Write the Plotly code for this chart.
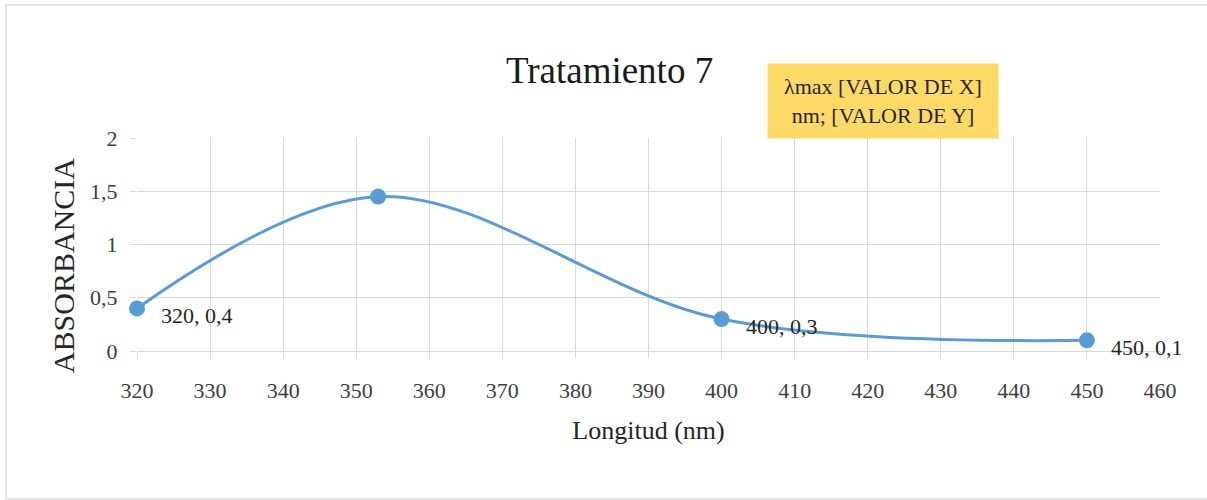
import plotly.graph_objects as go

longitud = [320, 353, 400, 450]
absorbancia = [0.4, 1.45, 0.3, 0.1]
etiquetas = ["320, 0,4", "", "400, 0,3", "450, 0,1"]

fuente = "Liberation Serif, Times New Roman, serif"
azul = "#5B9BD5"

fig = go.Figure()
fig.add_trace(go.Scatter(
    x=longitud, y=absorbancia,
    mode="lines+markers",
    line=dict(color=azul, width=3, shape="spline", smoothing=1.0),
    marker=dict(color=azul, size=16),
    cliponaxis=False,
    showlegend=False,
))

# etiquetas de datos
for x, y, t in zip(longitud, absorbancia, etiquetas):
    if t:
        fig.add_annotation(x=x, y=y, text=t, showarrow=False,
                           xanchor="left", yanchor="middle", xshift=22, yshift=-7,
                           font=dict(family=fuente, size=22, color="#262626"))

# caja amarilla del lambda max
fig.add_annotation(
    xref="paper", yref="paper", x=0.729, y=1.174,
    xanchor="center", yanchor="middle",
    text="λmax [VALOR DE X]<br>nm; [VALOR DE Y]",
    showarrow=False, bgcolor="#FFD966",
    width=228, height=72,
    font=dict(family=fuente, size=22, color="#262626"),
)

# titulo del eje y (algo mas abajo que el centro, como en el original)
fig.add_annotation(
    xref="paper", yref="paper", x=-0.072, y=0.40,
    xanchor="center", yanchor="middle", textangle=-90,
    text="ABSORBANCIA", showarrow=False,
    font=dict(family=fuente, size=30, color="#262626"),
)

# marco exterior del grafico
fig.add_shape(type="rect", xref="paper", yref="paper",
              x0=-0.128, x1=1.06, y0=-0.695, y1=1.624,
              line=dict(color="#E3E3E3", width=2))

fig.update_layout(
    width=1207, height=500,
    margin=dict(l=137, r=47, t=138, b=149),
    paper_bgcolor="white", plot_bgcolor="white",
    separators=",.",
    font=dict(family=fuente, color="#404040"),
    title=dict(text="Tratamiento 7", x=0.505, xanchor="center", y=0.86, yanchor="middle",
               font=dict(family=fuente, size=37, color="#1a1a1a")),
)
fig.update_xaxes(
    range=[320, 460], dtick=10, tick0=320,
    showgrid=True, gridcolor="#D9D9D9", gridwidth=1,
    ticks="outside", ticklen=6, tickcolor="#D9D9D9",
    showline=True, linecolor="#D9D9D9",
    zeroline=False, ticklabelstandoff=14,
    tickfont=dict(family=fuente, size=22, color="#404040"),
    title=dict(text="Longitud (nm)", font=dict(family=fuente, size=26, color="#262626"), standoff=18),
)
fig.update_yaxes(
    range=[0, 2], dtick=0.5,
    showgrid=True, gridcolor="#D9D9D9", gridwidth=1,
    ticks="outside", ticklen=6, tickcolor="#D9D9D9",
    zeroline=False, ticklabelstandoff=8,
    tickfont=dict(family=fuente, size=22, color="#404040"),
)

fig.write_html("out.html", config={"displayModeBar": False},
               post_script="document.body.style.margin='0px';")
